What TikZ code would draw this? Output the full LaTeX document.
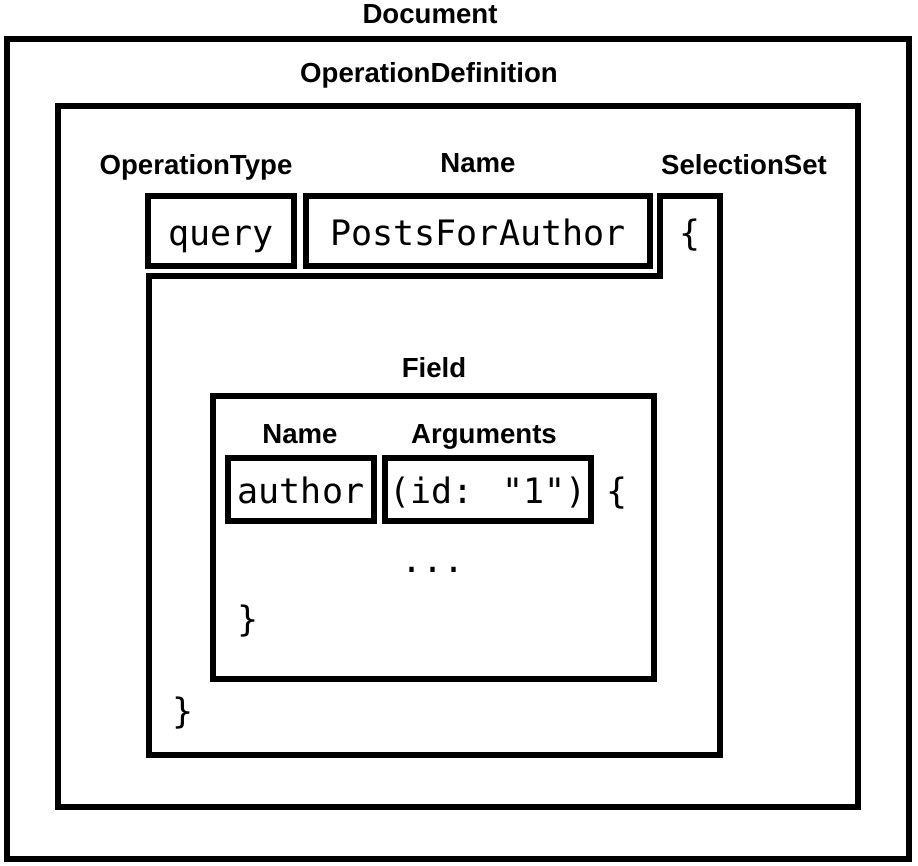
\documentclass[tikz,border=0pt]{standalone}
\usepackage{fontspec}
\newfontfamily\labfont{Liberation Sans}
\newfontfamily\monofont{DejaVu Sans Mono}
\begin{document}
\begin{tikzpicture}[x=1pt,y=-1pt,
  frame/.style={draw=black,line width=6pt,line join=miter},
  lab/.style={font=\labfont\bfseries\fontsize{27.6}{30}\selectfont,anchor=base,inner sep=0pt},
  code/.style={font=\monofont\fontsize{35}{40}\selectfont,inner sep=0pt},
  codebox/.style={draw=black,line width=6pt,font=\monofont\fontsize{35}{40}\selectfont,
    inner sep=0pt,text height=28pt,text depth=0pt,anchor=center}]
\useasboundingbox (0,0) rectangle (918,865);
% Document
\node[frame,minimum width=902pt,minimum height=820pt,inner sep=0pt] (doc) at (458,449) {};
\node[lab] (doclab) at (430,23) {Document};
% OperationDefinition
\node[frame,minimum width=800pt,minimum height=701pt,inner sep=0pt] (opdef) at (458,456.5) {};
\node[lab] (opdeflab) at (429,82) {OperationDefinition};
% labels
\node[lab] (optypelab) at (196,174) {OperationType};
\node[lab] (namelab) at (478,172) {Name};
\node[lab] (sellab) at (744,174) {SelectionSet};
% query / name boxes
\node[codebox,minimum width=146pt,minimum height=70pt] (query) at (221,231) {query};
\node[codebox,minimum width=344pt,minimum height=70pt] (name) at (478,231) {PostsForAuthor};
% selection set outline
\coordinate (s1) at (149,276);
\coordinate (s2) at (660,276);
\coordinate (s3) at (660,196);
\coordinate (s4) at (720,196);
\coordinate (s5) at (720,755);
\coordinate (s6) at (149,755);
\draw[frame] (s1) -- (s2) -- (s3) -- (s4) -- (s5) -- (s6) -- cycle;
\node[code,anchor=base] (sopen) at (690,245) {\{};
\node[code,anchor=base] (sclose) at (183,723) {\}};
% Field
\node[frame,minimum width=441pt,minimum height=283pt,inner sep=0pt] (field) at (433.5,537.5) {};
\node[lab] (fieldlab) at (434,377) {Field};
\node[lab] (fnamelab) at (300,443) {Name};
\node[lab] (arglab) at (484,443) {Arguments};
\node[codebox,minimum width=146pt,minimum height=63pt] (author) at (301,489.5) {author};
\node[codebox,minimum width=206pt,minimum height=63pt] (args) at (488,489.5) {(id: "1")};
\node[code,anchor=base] (fopen) at (617,503) {\{};
\node[code,anchor=base] (dots) at (433,572) {...};
\node[code,anchor=base] (fclose) at (248,631) {\}};
\end{tikzpicture}
\end{document}
